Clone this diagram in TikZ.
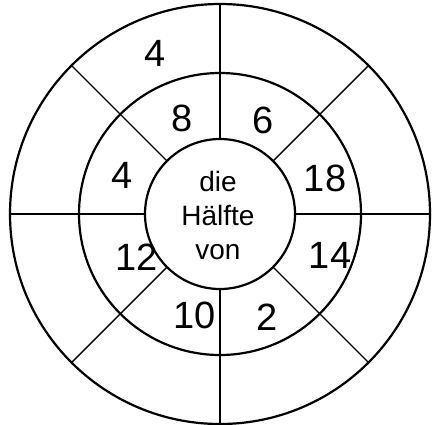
\documentclass[tikz,border=0pt]{standalone}
\usepackage{fontspec}
\setmainfont{Liberation Sans}
\usetikzlibrary{positioning}

\begin{document}
\begin{tikzpicture}[x=0.5pt, y=0.5pt,
    ring/.style={line width=1.1pt},
    spoke/.style={line width=0.7pt},
    num/.style={font=\fontsize{19}{19}\selectfont},
    centertext/.style={font=\fontsize{14}{17}\selectfont, align=center}]
  \useasboundingbox (-220,-210) rectangle (217,214);

  % rings
  \draw[ring] (0,0) circle (210);
  \draw[ring] (0,0) circle (141);
  \draw[ring] (0,0) circle (75);

  % spokes
  \foreach \a in {0,45,...,315} {
    \draw[spoke] (\a:75) -- (\a:210);
  }

  \node[centertext] (middle) at (-2,-1) {die\\Hälfte\\von};

  % inner ring
  \node[num] (n8)  at (-38,96)   {8};
  \node[num] (n6)  at (43,94)    {6};
  \node[num] (n18) at (105,36)   {18};
  \node[num] (n14) at (110,-41)  {14};
  \node[num] (n2)  at (47,-103)  {2};
  \node[num] (n10) at (-25,-101) {10};
  \node[num] (n12) at (-83,-43)  {12};
  \node[num] (n4)  at (-98,39)   {4};

  % outer ring
  \node[num] (out4) at (-65,161) {4};

\end{tikzpicture}
\end{document}
